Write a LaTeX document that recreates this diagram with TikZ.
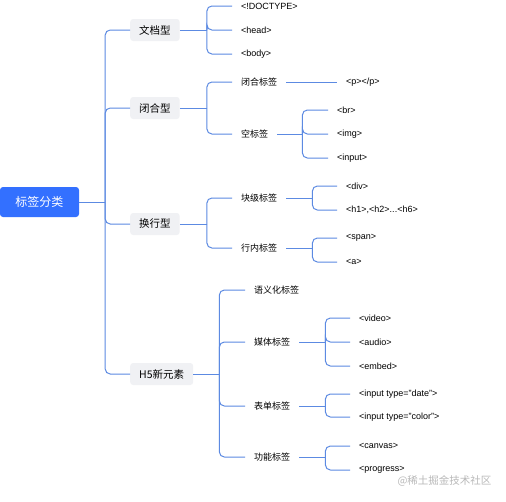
\documentclass[tikz,border=0pt]{standalone}
\usepackage{fontspec}
\setmainfont{Liberation Sans}
\newfontfamily\cjk{Noto Sans CJK SC}
\usepackage{tikz}
\usetikzlibrary{positioning}
\definecolor{linkblue}{RGB}{92,138,226}
\definecolor{rootblue}{RGB}{51,112,255}
\definecolor{topicgray}{RGB}{240,241,244}

\begin{document}
\begin{tikzpicture}[x=1pt, y=-1pt,
    root/.style={fill=rootblue, text=white, rounded corners=3pt, minimum width=79pt, minimum height=30pt, font=\cjk\fontsize{12}{14}\selectfont},
    topic/.style={fill=topicgray, rounded corners=3pt, anchor=west, inner xsep=9pt, minimum height=22pt, font=\cjk\fontsize{10.5}{12}\selectfont},
    sub/.style={anchor=west, inner xsep=9pt, font=\cjk\fontsize{9}{11}\selectfont},
    leaf/.style={anchor=west, inner xsep=9pt, font=\fontsize{9}{11}\selectfont},
    link/.style={draw=linkblue, line width=1pt, rounded corners=5pt}]
    \fill[white] (0,0) rectangle (506,501);
    \useasboundingbox (0,0) rectangle (506,501);

    % 根节点
    \node[root] (cls) at (39.5,202) {标签分类};
    \coordinate[right=26pt of cls] (trunk);
    \draw[link] (cls.east) -- (trunk);

    % 一级分类
    \node[topic] (doc) at (130,30) {文档型};
    \node[topic] (close) at (130,108) {闭合型};
    \node[topic] (wrap) at (130,224) {换行型};
    \node[topic] (h5) at (130,374) {H5新元素};
    \foreach \t in {doc,close,wrap,h5}
        \draw[link] (trunk) |- (\t.west);

    % 文档型
    \node[leaf] (doctype) at (232,6) {<!DOCTYPE>};
    \node[leaf] (head) at (232,30) {<head>};
    \node[leaf] (body) at (232,54) {<body>};
    \coordinate[right=27pt of doc] (docj);
    \draw[link] (doc.east) -- (docj);
    \foreach \c in {doctype,head,body}
        \draw[link] (docj) |- (\c.west);

    % 闭合型
    \node[sub] (pair) at (232,82) {闭合标签};
    \node[sub] (empty) at (232,134) {空标签};
    \coordinate[right=27pt of close] (closej);
    \draw[link] (close.east) -- (closej);
    \foreach \c in {pair,empty}
        \draw[link] (closej) |- (\c.west);

    \node[leaf] (p) at (337,82) {<p></p>};
    \draw[link] (pair.east) -- (p.west);

    \node[leaf] (br) at (328,110) {<br>};
    \node[leaf] (img) at (328,134) {<img>};
    \node[leaf] (input) at (328,158) {<input>};
    \coordinate[right=25pt of empty] (emptyj);
    \draw[link] (empty.east) -- (emptyj);
    \foreach \c in {br,img,input}
        \draw[link] (emptyj) |- (\c.west);

    % 换行型
    \node[sub] (block) at (232,198) {块级标签};
    \node[sub] (inline) at (232,248) {行内标签};
    \coordinate[right=27pt of wrap] (wrapj);
    \draw[link] (wrap.east) -- (wrapj);
    \foreach \c in {block,inline}
        \draw[link] (wrapj) |- (\c.west);

    \node[leaf] (div) at (337,186) {<div>};
    \node[leaf] (hx) at (337,210) {<h1>,<h2>...<h6>};
    \coordinate[right=26pt of block] (blockj);
    \draw[link] (block.east) -- (blockj);
    \foreach \c in {div,hx}
        \draw[link] (blockj) |- (\c.west);

    \node[leaf] (span) at (337,238) {<span>};
    \node[leaf] (a) at (337,262) {<a>};
    \coordinate[right=26pt of inline] (inlinej);
    \draw[link] (inline.east) -- (inlinej);
    \foreach \c in {span,a}
        \draw[link] (inlinej) |- (\c.west);

    % H5新元素
    \node[sub] (semantic) at (245,290) {语义化标签};
    \node[sub] (media) at (245,342) {媒体标签};
    \node[sub] (form) at (245,406) {表单标签};
    \node[sub] (func) at (245,457) {功能标签};
    \coordinate[right=26pt of h5] (h5j);
    \draw[link] (h5.east) -- (h5j);
    \foreach \c in {semantic,media,form,func}
        \draw[link] (h5j) |- (\c.west);

    \node[leaf] (video) at (350,318) {<video>};
    \node[leaf] (audio) at (350,342) {<audio>};
    \node[leaf] (embed) at (350,366) {<embed>};
    \coordinate[right=26pt of media] (mediaj);
    \draw[link] (media.east) -- (mediaj);
    \foreach \c in {video,audio,embed}
        \draw[link] (mediaj) |- (\c.west);

    \node[leaf] (date) at (350,394) {<input type="date">};
    \node[leaf] (color) at (350,417) {<input type="color">};
    \coordinate[right=26pt of form] (formj);
    \draw[link] (form.east) -- (formj);
    \foreach \c in {date,color}
        \draw[link] (formj) |- (\c.west);

    \node[leaf] (canvas) at (350,446) {<canvas>};
    \node[leaf] (progress) at (350,470) {<progress>};
    \coordinate[right=26pt of func] (funcj);
    \draw[link] (func.east) -- (funcj);
    \foreach \c in {canvas,progress}
        \draw[link] (funcj) |- (\c.west);

    % 水印
    \node[anchor=west, text=gray!55, font=\cjk\fontsize{10.5}{12}\selectfont] (mark) at (394,481) {@稀土掘金技术社区};
\end{tikzpicture}
\end{document}
